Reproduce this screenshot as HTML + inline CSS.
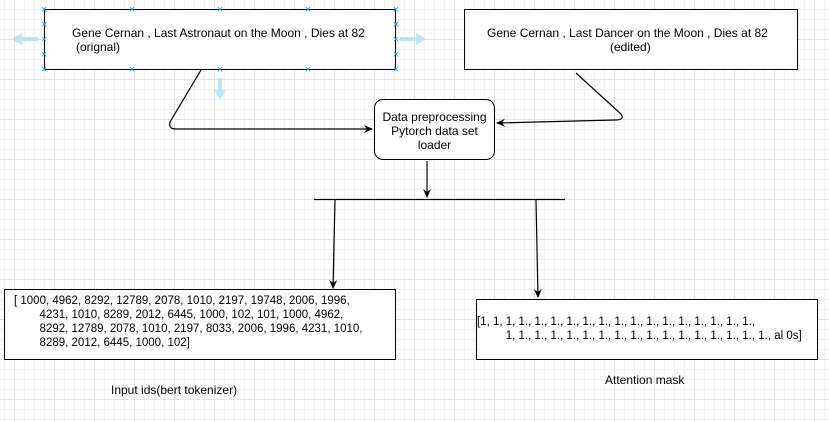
<!DOCTYPE html>
<html><head><meta charset="utf-8"><style>
body{margin:0;width:829px;height:422px;overflow:hidden;background:#fff;font-family:"Liberation Sans",sans-serif;}
.bg{position:absolute;left:0;top:0;width:829px;height:422px;
background-image:
linear-gradient(to right,#e2e2e2 1px,transparent 1px),
linear-gradient(to bottom,#e2e2e2 1px,transparent 1px),
linear-gradient(to right,#f3f3f3 1px,transparent 1px),
linear-gradient(to bottom,#f3f3f3 1px,transparent 1px);
background-size:40px 40px,40px 40px,10px 10px,10px 10px;
background-position:14px 0,0 39px,4px 0,0 9px;}
.box{position:absolute;border:1px solid #000;background:#fff;font-size:12px;color:#000;box-sizing:border-box;}
.t{position:absolute;font-size:12px;white-space:nowrap;}
</style></head><body>
<div class="bg"></div>
<div class="box" style="left:44px;top:9px;width:352px;height:61px;"></div>
<div class="t" style="left:72px;top:26px;">Gene Cernan , Last Astronaut on the Moon , Dies at 82</div>
<div class="t" style="left:76px;top:40px;">(orignal)</div>
<div class="box" style="left:464px;top:9px;width:334px;height:61px;"></div>
<div class="t" style="left:487px;top:26px;">Gene Cernan , Last Dancer on the Moon , Dies at 82</div>
<div class="t" style="left:610px;top:40px;">(edited)</div>
<div class="box" style="left:374px;top:99px;width:121px;height:61px;border-radius:9px;"></div>
<div class="t" style="left:374px;width:121px;text-align:center;top:110px;line-height:14px;white-space:normal;">Data preprocessing Pytorch data set loader</div>
<div class="box" style="left:4px;top:289px;width:392px;height:71px;"></div>
<div class="t" style="left:14px;top:294px;line-height:14px;font-size:11.5px;">[ 1000, 4962, 8292, 12789, 2078, 1010, 2197, 19748, 2006, 1996,<br>&nbsp;&nbsp;&nbsp;&nbsp;&nbsp;&nbsp;&nbsp;&nbsp;4231, 1010, 8289, 2012, 6445, 1000, 102, 101, 1000, 4962,<br>&nbsp;&nbsp;&nbsp;&nbsp;&nbsp;&nbsp;&nbsp;&nbsp;8292, 12789, 2078, 1010, 2197, 8033, 2006, 1996, 4231, 1010,<br>&nbsp;&nbsp;&nbsp;&nbsp;&nbsp;&nbsp;&nbsp;&nbsp;8289, 2012, 6445, 1000, 102]</div>
<div class="box" style="left:476px;top:299px;width:342px;height:61px;"></div>
<div class="t" style="left:477px;top:315px;line-height:14px;font-size:11.5px;">[1, 1, 1, 1., 1., 1., 1., 1., 1., 1., 1., 1., 1., 1., 1., 1., 1., 1.,<br>&nbsp;&nbsp;&nbsp;&nbsp;&nbsp;&nbsp;&nbsp;&nbsp;&nbsp;1, 1., 1., 1., 1., 1., 1., 1., 1., 1., 1., 1., 1., 1., 1., 1., 1., al 0s]</div>
<div class="t" style="left:111px;top:383px;">Input ids(bert tokenizer)</div>
<div class="t" style="left:605px;top:373px;">Attention mask</div>
<svg width="829" height="422" style="position:absolute;left:0;top:0">
<defs><marker id="a" markerWidth="10" markerHeight="10" refX="8" refY="4" orient="auto" markerUnits="userSpaceOnUse"><path d="M0,0 L9,4 L0,8 L3,4 Z" fill="#000"/></marker></defs>
<g stroke="#000" fill="none" stroke-width="1.2">
<path d="M201,70 L170,122 Q168,129 176,129 L372,129" marker-end="url(#a)"/>
<path d="M576,73 L621,114 Q625,120 615,120 L497,123" marker-end="url(#a)"/>
<path d="M427,161 L427,197" marker-end="url(#a)"/>
<path d="M314,199.5 L565,199.5"/>
<path d="M335,200 L333,288" marker-end="url(#a)"/>
<path d="M536,200 L538,297" marker-end="url(#a)"/>
</g>
<g fill="#1ea7e6">
<text x="44" y="12" font-size="8" text-anchor="middle" font-family="Liberation Sans">×</text>
</g>
<g fill="#bfe3f7">
<path d="M12,39 L22,33 L22,37 L38,37 L38,41 L22,41 L22,45 Z"/>
<path d="M426,39 L416,33 L416,37 L400,37 L400,41 L416,41 L416,45 Z"/>
<path d="M220,100 L214,90 L218,90 L218,78 L222,78 L222,90 L226,90 Z"/>
</g>
<g fill="#1ea7e6" font-size="9" font-family="DejaVu Sans" text-anchor="middle">
<text x="44" y="12">×</text><text x="132" y="12">×</text><text x="220" y="12">×</text><text x="308" y="12">×</text><text x="396" y="12">×</text>
<text x="44" y="72">×</text><text x="132" y="72">×</text><text x="220" y="72">×</text><text x="308" y="72">×</text><text x="396" y="72">×</text>
<text x="44" y="27">×</text><text x="44" y="42">×</text><text x="44" y="57">×</text>
<text x="396" y="27">×</text><text x="396" y="42">×</text><text x="396" y="57">×</text>
</g>
</svg>
</body></html>
